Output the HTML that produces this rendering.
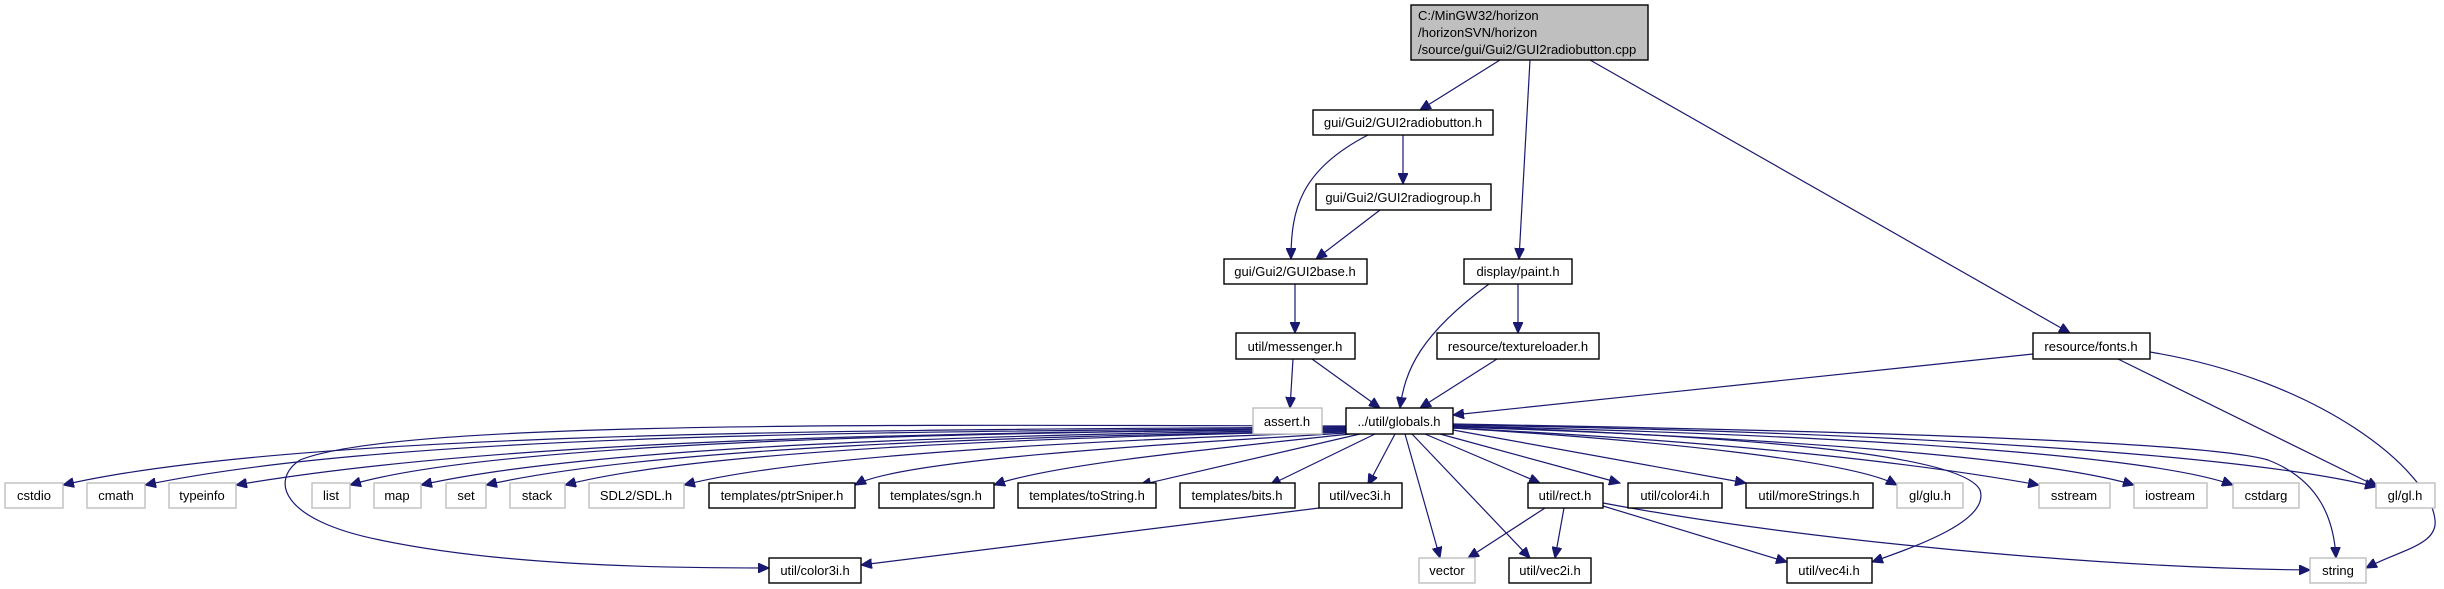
<!DOCTYPE html>
<html><head><meta charset="utf-8"><style>
html,body{margin:0;padding:0;background:#fff;}
svg{display:block;}
text{font-family:"Liberation Sans",Arial,sans-serif;font-size:13px;fill:#000;}
.b{fill:#fff;stroke:#000;stroke-width:1.4;}
.g{fill:#fff;stroke:#bfbfbf;stroke-width:1.4;}
.e{fill:none;stroke:#191970;stroke-width:1.2;marker-end:url(#a);}
</style></head><body>
<svg width="2444" height="589" viewBox="0 0 2444 589" xmlns="http://www.w3.org/2000/svg">
<defs><marker id="a" markerWidth="12" markerHeight="10" refX="11" refY="5" orient="auto" markerUnits="userSpaceOnUse"><path d="M0,0 L11,5 L0,10 z" fill="#191970" stroke="#191970"/></marker></defs>

<!-- edges -->
<path class="e" d="M1500,60 L1420,110"/>
<path class="e" d="M1530,60 L1519,259"/>
<path class="e" d="M1590,60 L2070,333"/>
<path class="e" d="M1403,135 L1403,184"/>
<path class="e" d="M1368,135 C1300,170 1291,210 1291,259"/>
<path class="e" d="M1380,210 L1316,259"/>
<path class="e" d="M1295,284 L1295,333"/>
<path class="e" d="M1293,359 L1290,408"/>
<path class="e" d="M1312,359 L1380,408"/>
<path class="e" d="M1489,284 C1420,335 1405,370 1400,408"/>
<path class="e" d="M1518,284 L1518,333"/>
<path class="e" d="M1497,359 L1420,408"/>
<path class="e" d="M2033,354 L1453,415"/>
<path class="e" d="M2118,359 L2378,487"/>
<path class="e" d="M2150,352 C2320,380 2430,470 2435,520 C2438,545 2400,550 2366,568"/>

<!-- globals to row -->
<path class="e" d="M1346,427 C900,430 300,430 63,485"/>
<path class="e" d="M1346,428 C900,432 400,432 145,485"/>
<path class="e" d="M1346,429 C900,433 500,440 236,485"/>
<path class="e" d="M1346,429 C1000,432 500,440 350,485"/>
<path class="e" d="M1346,430 C1000,434 600,445 421,485"/>
<path class="e" d="M1346,431 C1000,436 650,448 486,485"/>
<path class="e" d="M1346,431 C1050,437 700,450 565,485"/>
<path class="e" d="M1346,432 C1100,440 800,455 684,485"/>
<path class="e" d="M1346,433 C1150,445 900,460 855,485"/>
<path class="e" d="M1350,434 C1200,450 1050,465 994,485"/>
<path class="e" d="M1360,434 L1140,485"/>
<path class="e" d="M1375,434 L1270,485"/>
<path class="e" d="M1395,434 L1368,485"/>
<path class="e" d="M1346,426 C900,425 400,420 300,460 C270,480 280,520 380,540 C500,565 650,568 769,568"/>
<path class="e" d="M1405,434 L1440,558"/>
<path class="e" d="M1412,434 L1530,558"/>
<path class="e" d="M1425,434 L1540,483"/>
<path class="e" d="M1440,434 L1620,483"/>
<path class="e" d="M1453,430 L1746,483"/>
<path class="e" d="M1453,428 C1650,440 1850,460 1897,485"/>
<path class="e" d="M1453,428 C1700,440 1900,460 2039,485"/>
<path class="e" d="M1453,427 C1800,438 2050,460 2134,485"/>
<path class="e" d="M1453,426 C1850,435 2150,455 2233,485"/>
<path class="e" d="M1453,425 C1900,432 2250,455 2376,487"/>
<path class="e" d="M1453,426 C1700,435 1960,450 1980,490 C1990,520 1920,545 1872,562"/>
<path class="e" d="M1453,424 C1800,430 2200,440 2268,460 C2320,480 2334,520 2336,558"/>
<path class="e" d="M1319,508 L861,565"/>
<path class="e" d="M1545,508 L1468,558"/>
<path class="e" d="M1564,508 L1555,558"/>
<path class="e" d="M1603,506 L1787,562"/>
<path class="e" d="M1603,503 C1800,540 2100,568 2310,570"/>

<!-- nodes -->
<rect x="1411" y="5" width="237" height="55" fill="#bfbfbf" stroke="#000" stroke-width="1.4"/>
<text x="1418" y="20">C:/MinGW32/horizon</text>
<text x="1418" y="37">/horizonSVN/horizon</text>
<text x="1418" y="54">/source/gui/Gui2/GUI2radiobutton.cpp</text>

<g text-anchor="middle">
<rect class="b" x="1313" y="110" width="180" height="25"/><text x="1403" y="127">gui/Gui2/GUI2radiobutton.h</text>
<rect class="b" x="1316" y="184" width="175" height="26"/><text x="1403" y="202">gui/Gui2/GUI2radiogroup.h</text>
<rect class="b" x="1224" y="259" width="143" height="25"/><text x="1295" y="276">gui/Gui2/GUI2base.h</text>
<rect class="b" x="1464" y="259" width="108" height="25"/><text x="1518" y="276">display/paint.h</text>
<rect class="b" x="1236" y="333" width="119" height="26"/><text x="1295" y="351">util/messenger.h</text>
<rect class="b" x="1437" y="333" width="162" height="26"/><text x="1518" y="351">resource/textureloader.h</text>
<rect class="b" x="2033" y="333" width="117" height="26"/><text x="2091" y="351">resource/fonts.h</text>
<rect class="g" x="1253" y="408" width="69" height="26"/><text x="1287" y="426">assert.h</text>
<rect class="b" x="1346" y="408" width="107" height="26"/><text x="1399" y="426">../util/globals.h</text>

<rect class="g" x="5" y="483" width="58" height="25"/><text x="34" y="500">cstdio</text>
<rect class="g" x="87" y="483" width="58" height="25"/><text x="116" y="500">cmath</text>
<rect class="g" x="169" y="483" width="67" height="25"/><text x="202" y="500">typeinfo</text>
<rect class="g" x="312" y="483" width="38" height="25"/><text x="331" y="500">list</text>
<rect class="g" x="374" y="483" width="47" height="25"/><text x="397" y="500">map</text>
<rect class="g" x="446" y="483" width="40" height="25"/><text x="466" y="500">set</text>
<rect class="g" x="510" y="483" width="55" height="25"/><text x="537" y="500">stack</text>
<rect class="g" x="589" y="483" width="95" height="25"/><text x="636" y="500">SDL2/SDL.h</text>
<rect class="b" x="709" y="483" width="146" height="25"/><text x="782" y="500">templates/ptrSniper.h</text>
<rect class="b" x="879" y="483" width="115" height="25"/><text x="936" y="500">templates/sgn.h</text>
<rect class="b" x="1018" y="483" width="138" height="25"/><text x="1087" y="500">templates/toString.h</text>
<rect class="b" x="1180" y="483" width="115" height="25"/><text x="1237" y="500">templates/bits.h</text>
<rect class="b" x="1319" y="483" width="83" height="25"/><text x="1360" y="500">util/vec3i.h</text>
<rect class="b" x="1528" y="483" width="75" height="25"/><text x="1565" y="500">util/rect.h</text>
<rect class="b" x="1628" y="483" width="94" height="25"/><text x="1675" y="500">util/color4i.h</text>
<rect class="b" x="1746" y="483" width="127" height="25"/><text x="1809" y="500">util/moreStrings.h</text>
<rect class="g" x="1897" y="483" width="66" height="25"/><text x="1930" y="500">gl/glu.h</text>
<rect class="g" x="2039" y="483" width="71" height="25"/><text x="2074" y="500">sstream</text>
<rect class="g" x="2134" y="483" width="73" height="25"/><text x="2170" y="500">iostream</text>
<rect class="g" x="2233" y="483" width="66" height="25"/><text x="2266" y="500">cstdarg</text>
<rect class="g" x="2376" y="483" width="59" height="25"/><text x="2405" y="500">gl/gl.h</text>

<rect class="b" x="769" y="558" width="92" height="25"/><text x="815" y="575">util/color3i.h</text>
<rect class="g" x="1419" y="558" width="56" height="25"/><text x="1447" y="575">vector</text>
<rect class="b" x="1509" y="558" width="82" height="25"/><text x="1550" y="575">util/vec2i.h</text>
<rect class="b" x="1787" y="558" width="85" height="25"/><text x="1829" y="575">util/vec4i.h</text>
<rect class="g" x="2310" y="558" width="56" height="25"/><text x="2338" y="575">string</text>
</g>
</svg>
</body></html>
